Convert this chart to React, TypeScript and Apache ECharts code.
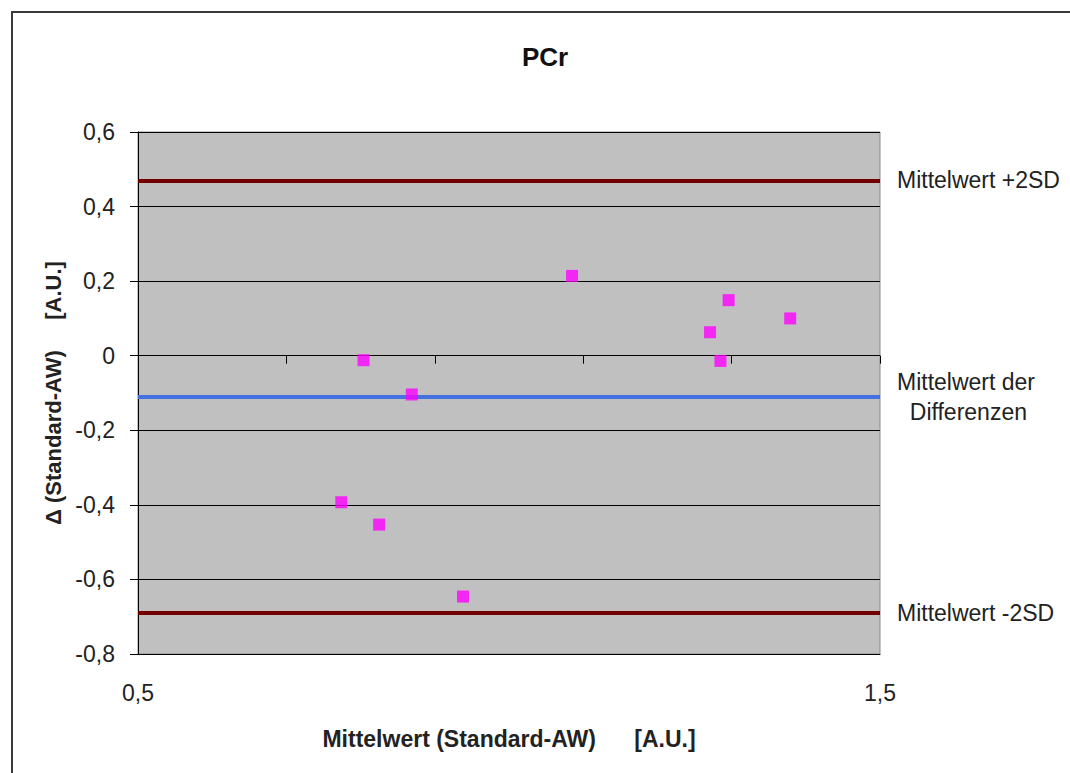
import React, { useEffect, useRef } from "react";
import * as echarts from "echarts";

// Bland-Altman data
const meanValues = [1.085, 1.296, 1.379, 1.271, 1.285, 0.804, 0.869, 0.774, 0.825, 0.938];
const diffValues = [0.214, 0.149, 0.100, 0.063, -0.014, -0.012, -0.104, -0.393, -0.453, -0.646];

const meanDiff = -0.108;
const upperLimit = 0.469;
const lowerLimit = -0.685;

const xMin = 0.5;
const xMax = 1.5;
const yMin = -0.8;
const yMax = 0.6;
const yStep = 0.2;
const xMinorStep = 0.2;

const titleText = "PCr";
const xAxisTitle = "Mittelwert (Standard-AW)      [A.U.]";
const yAxisTitle = "\u0394 (Standard-AW)     [A.U.]";
const upperLabel = "Mittelwert +2SD";
const meanLabel = "Mittelwert der\n  Differenzen";
const lowerLabel = "Mittelwert -2SD";

const FONT = "'Liberation Sans', Arial, sans-serif";

const fmt = (v: number) => {
  const r = Math.round(v * 10) / 10;
  if (r === 0) return "0";
  return r.toFixed(1).replace(".", ",");
};

export default function App() {
  const ref = useRef<HTMLDivElement>(null);
  useEffect(() => {
    if (!ref.current) return;
    const chart = echarts.init(ref.current, undefined, { renderer: "svg" });
    const points = meanValues.map((x, i) => [x, diffValues[i]]);
    const lineLabel = {
      show: true,
      position: "end" as const,
      distance: 17,
      color: "#222",
      fontFamily: FONT,
      fontSize: 23,
    };
    chart.setOption({
      animation: false,
      backgroundColor: "#ffffff",
      title: {
        text: titleText,
        left: 540,
        top: 39,
        textAlign: "center",
        textStyle: { fontFamily: FONT, fontSize: 26, fontWeight: "bold", color: "#111" },
      },
      graphic: [
        {
          type: "rect",
          shape: { x: 12, y: 12, width: 1070, height: 800 },
          style: { fill: "none", stroke: "#3a3a3a", lineWidth: 2 },
          z: 100,
        },
      ],
      grid: {
        left: 138,
        top: 132,
        width: 742,
        height: 522,
        show: true,
        backgroundColor: "#c0c0c0",
        borderColor: "#8a8a8a",
        borderWidth: 1,
      },
      xAxis: [
        {
          type: "value",
          min: xMin,
          max: xMax,
          interval: 0.5,
          name: xAxisTitle,
          nameLocation: "middle",
          nameGap: 73,
          nameTextStyle: { fontFamily: FONT, fontSize: 23, fontWeight: "bold", color: "#222" },
          axisLine: { show: true, onZero: false, lineStyle: { color: "#000", width: 1 } },
          axisTick: { show: false },
          splitLine: { show: false },
          axisLabel: {
            fontFamily: FONT,
            fontSize: 23,
            color: "#222",
            margin: 27,
            formatter: (v: number) =>
              Math.abs(v - xMin) < 1e-9 || Math.abs(v - xMax) < 1e-9 ? fmt(v) : "",
          },
        },
        {
          type: "value",
          position: "bottom",
          min: 0,
          max: xMax - xMin,
          interval: xMinorStep,
          axisLine: { show: false },
          axisTick: { show: true, inside: false, length: 8, lineStyle: { color: "#000" } },
          axisLabel: { show: false },
          splitLine: { show: false },
        },
      ],
      yAxis: {
        type: "value",
        min: yMin,
        max: yMax,
        interval: yStep,
        name: yAxisTitle,
        nameLocation: "middle",
        nameGap: 73,
        nameTextStyle: { fontFamily: FONT, fontSize: 22, fontWeight: "bold", color: "#222" },
        axisLine: { show: true, lineStyle: { color: "#000", width: 1 } },
        axisTick: { show: true, length: 8, lineStyle: { color: "#000" } },
        axisLabel: { fontFamily: FONT, fontSize: 23, color: "#222", margin: 23, formatter: fmt },
        splitLine: { show: true, lineStyle: { color: "#000", width: 1 } },
      },
      series: [
        {
          type: "scatter",
          xAxisIndex: 0,
          symbol: "rect",
          symbolSize: 12,
          itemStyle: { color: "#ff00ff" },
          data: points,
          z: 5,
          markLine: {
            silent: true,
            symbol: "none",
            z: 3,
            data: [
              {
                yAxis: upperLimit,
                lineStyle: { color: "#730000", width: 4, type: "solid" },
                label: { ...lineLabel, formatter: upperLabel },
              },
              {
                yAxis: meanDiff,
                lineStyle: { color: "#4470e0", width: 4, type: "solid" },
                label: { ...lineLabel, formatter: meanLabel, lineHeight: 30 },
              },
              {
                yAxis: lowerLimit,
                lineStyle: { color: "#730000", width: 4, type: "solid" },
                label: { ...lineLabel, formatter: lowerLabel },
              },
            ],
          },
        },
      ],
    });
    return () => chart.dispose();
  }, []);
  return (
    <div
      ref={ref}
      style={{ position: "fixed", left: 0, top: 0, width: 1070, height: 773 }}
    />
  );
}
